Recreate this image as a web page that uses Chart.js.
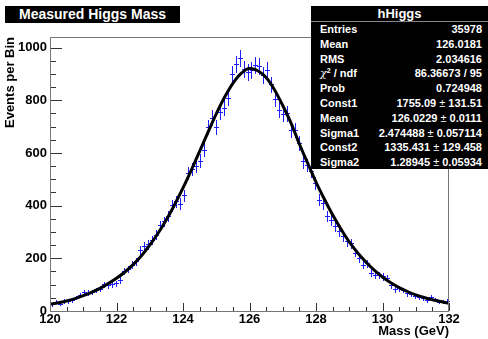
<!DOCTYPE html>
<html>
<head>
<meta charset="utf-8">
<script src="https://cdn.jsdelivr.net/npm/chart.js@4.4.0/dist/chart.umd.min.js"></script>
<style>
  body { margin: 0; background: #fff; }
  #wrap { position: relative; width: 488px; height: 339px; font-family: "Liberation Sans", Arial, sans-serif; }
  #title {
    position: absolute; left: 5px; top: 6px; width: 175px; height: 17px;
    background: #000; color: #fff; font-weight: bold; font-size: 14px;
    text-align: center; line-height: 17px;
  }
  #stats {
    position: absolute; left: 311px; top: 6px; width: 177px; height: 163px;
    background: #000; color: #fff; font-weight: bold; font-size: 11px;
  }
  #stats .head { height: 15px; line-height: 15px; text-align: center; font-size: 13px; border-bottom: 1px solid #888; }
  #stats .row { height: 14.8px; line-height: 14.8px; display: flex; justify-content: space-between; padding: 0 6px 0 9px; }
  #stats .pm { font-weight: normal; }
  #stats .chi { font-style: italic; font-weight: normal; font-family: "DejaVu Serif", serif; }
  #stats sup { font-size: 7px; vertical-align: 4px; line-height: 0; }
</style>
</head>
<body>
<div id="wrap">
  <canvas id="chart" width="488" height="339"></canvas>
  <div id="title">Measured Higgs Mass</div>
  <div id="stats"></div>
</div>
<script>
// histogram bin centres (GeV) and counts
const binCenters = [
  120.06, 120.18, 120.30, 120.42, 120.54, 120.66, 120.78, 120.90, 121.02, 121.14,
  121.26, 121.38, 121.50, 121.62, 121.74, 121.86, 121.98, 122.10, 122.22, 122.34,
  122.46, 122.58, 122.70, 122.82, 122.94, 123.06, 123.18, 123.30, 123.42, 123.54,
  123.66, 123.78, 123.90, 124.02, 124.14, 124.26, 124.38, 124.50, 124.62, 124.74,
  124.86, 124.98, 125.10, 125.22, 125.34, 125.46, 125.58, 125.70, 125.82, 125.94,
  126.06, 126.18, 126.30, 126.42, 126.54, 126.66, 126.78, 126.90, 127.02, 127.14,
  127.26, 127.38, 127.50, 127.62, 127.74, 127.86, 127.98, 128.10, 128.22, 128.34,
  128.46, 128.58, 128.70, 128.82, 128.94, 129.06, 129.18, 129.30, 129.42, 129.54,
  129.66, 129.78, 129.90, 130.02, 130.14, 130.26, 130.38, 130.50, 130.62, 130.74,
  130.86, 130.98, 131.10, 131.22, 131.34, 131.46, 131.58, 131.70, 131.82, 131.94
];
const counts = [
  25, 35, 27, 38, 38, 42, 51, 61, 73, 70,
  73, 80, 84, 101, 99, 101, 105, 118, 152, 160,
  175, 188, 232, 245, 253, 270, 290, 325, 340, 362,
  401, 416, 408, 440, 523, 540, 550, 571, 612, 700,
  734, 700, 755, 772, 810, 900, 938, 961, 920, 906,
  913, 933, 929, 897, 915, 860, 805, 764, 748, 750,
  688, 686, 638, 568, 555, 530, 486, 422, 409, 359,
  346, 321, 302, 283, 264, 257, 222, 200, 175, 181,
  146, 137, 137, 131, 124, 99, 82, 86, 80, 67,
  65, 57, 52, 48, 42, 54, 44, 35, 35, 38
];
const binWidth = 0.12;

// fitted curve
const fitMass = [
  120, 120.25, 120.5, 120.75, 121, 121.25, 121.5, 121.75, 122, 122.25,
  122.5, 122.75, 123, 123.25, 123.5, 123.75, 124, 124.25, 124.5, 124.75,
  125, 125.25, 125.5, 125.75, 126, 126.25, 126.5, 126.75, 127, 127.25,
  127.5, 127.75, 128, 128.25, 128.5, 128.75, 129, 129.25, 129.5, 129.75,
  130, 130.25, 130.5, 130.75, 131, 131.25, 131.5, 131.75, 132
];
const fitValues = [
  26, 31, 38, 47, 58, 71, 86, 104, 124, 148,
  176, 210, 250, 295, 346, 404, 467, 535, 606, 678,
  748, 811, 864, 902, 920, 912, 886, 840, 780, 713,
  634, 561, 489, 425, 365, 311, 262, 221, 186, 155,
  129, 107, 89, 74, 61, 51, 43, 36, 29
];

const yMajor = [0, 200, 400, 600, 800, 1000];
const xMajor = [120, 122, 124, 126, 128, 130, 132];

const statNames = ["Entries", "Mean", "RMS", "<span class='chi'>&chi;</span><sup>2</sup> / ndf", "Prob",
  "Const1", "Mean", "Sigma1", "Const2", "Sigma2"];
const statValues = ["35978", "126.0181", "2.034616", "86.36673 / 95", "0.724948",
  "1755.09 ± 131.51", "126.0229 ± 0.0111", "2.474488 ± 0.057114", "1335.431 ± 129.458", "1.28945 ± 0.05934"];

const stats = document.getElementById("stats");
stats.innerHTML = '<div class="head">hHiggs</div>';
statNames.forEach((name, i) => {
  const row = document.createElement("div");
  row.className = "row";
  const val = statValues[i].replace("±", '<span class="pm">±</span>');
  row.innerHTML = `<span>${name}</span><span>${val}</span>`;
  stats.appendChild(row);
});

const labelFont = { family: '"Liberation Sans", Arial, sans-serif', size: 13, weight: 'bold' };

// ROOT style: error crosses under the fit, inward tick marks, grey frame
const rootStyle = {
  id: "rootStyle",
  beforeDatasetsDraw(chart) {
    const ctx = chart.ctx;
    const xs = chart.scales.x;
    const ys = chart.scales.y;
    ctx.save();
    ctx.fillStyle = "#1e1eff";
    binCenters.forEach((m, i) => {
      const n = counts[i];
      const err = Math.sqrt(n);
      const px = Math.round(xs.getPixelForValue(m));
      const py = Math.round(ys.getPixelForValue(n));
      const x1 = Math.round(xs.getPixelForValue(m - binWidth / 2));
      const x2 = Math.round(xs.getPixelForValue(m + binWidth / 2));
      const y1 = Math.round(ys.getPixelForValue(n + err));
      const y2 = Math.round(ys.getPixelForValue(n - err));
      ctx.fillRect(x1, py, x2 - x1 + 1, 1);
      ctx.fillRect(px, y1, 1, y2 - y1 + 1);
    });
    ctx.restore();
  },
  afterDraw(chart) {
    const ctx = chart.ctx;
    const a = chart.chartArea;
    const xs = chart.scales.x;
    const ys = chart.scales.y;
    ctx.save();
    ctx.strokeStyle = "#333";
    ctx.lineWidth = 1;
    ctx.beginPath();
    xs.ticks.forEach(t => {
      const px = Math.round(xs.getPixelForValue(t.value)) + 0.5;
      const len = xMajor.includes(t.value) ? 8 : 4;
      ctx.moveTo(px, a.bottom);
      ctx.lineTo(px, a.bottom - len);
    });
    ys.ticks.forEach(t => {
      const py = Math.round(ys.getPixelForValue(t.value)) + 0.5;
      const len = yMajor.includes(t.value) ? 12 : 6;
      ctx.moveTo(a.left, py);
      ctx.lineTo(a.left + len, py);
    });
    ctx.stroke();
    ctx.strokeStyle = "#777";
    ctx.strokeRect(Math.round(a.left) + 0.5, Math.round(a.top) + 0.5,
      Math.round(a.right - a.left) - 1, Math.round(a.bottom - a.top));
    ctx.restore();
  }
};

new Chart(document.getElementById("chart"), {
  type: "scatter",
  data: {
    datasets: [
      {
        label: "fit",
        data: fitMass.map((m, i) => ({ x: m, y: fitValues[i] })),
        showLine: true,
        borderColor: "#000",
        borderWidth: 3,
        pointRadius: 0,
        cubicInterpolationMode: "monotone",
        fill: false
      }
    ]
  },
  options: {
    responsive: false,
    animation: false,
    devicePixelRatio: 1,
    layout: { padding: { top: 37, right: 39, left: 0, bottom: 0 } },
    plugins: { legend: { display: false }, tooltip: { enabled: false } },
    scales: {
      x: {
        type: "linear",
        min: 120,
        max: 132,
        afterFit(s) { s.height = 28; },
        afterBuildTicks(s) {
          const t = [];
          for (let v = 120; v <= 132; v += 0.5) t.push({ value: v });
          s.ticks = t;
        },
        grid: { display: false, drawTicks: false },
        border: { display: false },
        ticks: {
          autoSkip: false,
          maxRotation: 0,
          padding: 1,
          color: "#000",
          font: labelFont,
          callback: v => (xMajor.includes(v) ? v : "")
        },
        title: { display: true, text: "Mass (GeV)", align: "end", color: "#000", font: labelFont, padding: 0 }
      },
      y: {
        min: 0,
        max: 1040,
        afterFit(s) { s.width = 50; },
        afterBuildTicks(s) {
          const t = [];
          for (let v = 0; v <= 1000; v += 50) t.push({ value: v });
          s.ticks = t;
        },
        grid: { display: false, drawTicks: false },
        border: { display: false },
        ticks: {
          autoSkip: false,
          padding: 3,
          color: "#000",
          font: labelFont,
          callback: v => (yMajor.includes(v) ? v : "")
        },
        title: { display: true, text: "Events per Bin", align: "end", color: "#000", font: labelFont, padding: { top: 3, bottom: 0 } }
      }
    }
  },
  plugins: [rootStyle]
});
</script>
</body>
</html>
